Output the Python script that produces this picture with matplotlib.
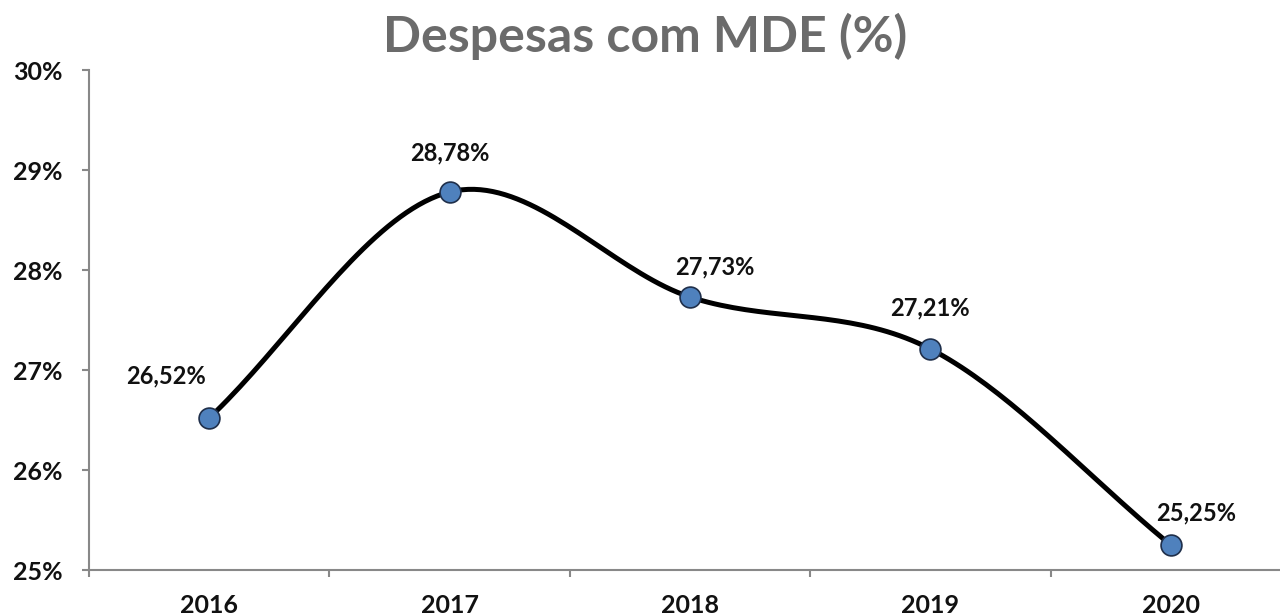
import numpy as np
import matplotlib.pyplot as plt

anos = ['2016', '2017', '2018', '2019', '2020']
valores = [26.52, 28.78, 27.73, 27.21, 25.25]
rotulos = ['26,52%', '28,78%', '27,73%', '27,21%', '25,25%']
# deslocamento dos rotulos em pixels (dx, dy)
desloc = [(-43, 42), (0, 39), (25, 30), (0, 41), (25, 32)]
yticks = [25, 26, 27, 28, 29, 30]

plt.rcParams['font.family'] = ['Lato', 'DejaVu Sans']

# linha suavizada estilo Excel (Catmull-Rom)
def suavizar(x, y, n=40):
    x = np.asarray(x, float)
    y = np.asarray(y, float)
    px = np.concatenate([[2*x[0]-x[1]], x, [2*x[-1]-x[-2]]])
    py = np.concatenate([[2*y[0]-y[1]], y, [2*y[-1]-y[-2]]])
    xs, ys = [], []
    for i in range(1, len(px)-2):
        t = np.linspace(0, 1, n)
        p0, p1, p2, p3 = [np.array([px[j], py[j]]) for j in range(i-1, i+3)]
        c1 = p1 + (p2 - p0)/6
        c2 = p2 - (p3 - p1)/6
        b = (np.outer((1-t)**3, p1) + np.outer(3*(1-t)**2*t, c1)
             + np.outer(3*(1-t)*t**2, c2) + np.outer(t**3, p2))
        xs.extend(b[:, 0]); ys.extend(b[:, 1])
    return np.array(xs), np.array(ys)

x = np.arange(len(anos))
fig = plt.figure(figsize=(12.8, 6.16), dpi=100)
ax = fig.add_axes([89/1280, 46/616, 1202/1280, 500/616])

sx, sy = suavizar(x, valores)
ax.plot(sx, sy, color='black', lw=3.6, zorder=2, solid_capstyle='round')
ax.plot(x, valores, 'o', ms=15, mfc='#4f81bd', mec='#1f2f4a', mew=1.2, zorder=3)

for xi, v, r, (dx, dy) in zip(x, valores, rotulos, desloc):
    ax.annotate(r, (xi, v), xytext=(dx*0.72, dy*0.72), textcoords='offset points',
                ha='center', va='center', fontsize=17, fontweight='bold', color='#111111')

ax.set_xlim(-0.5, 4.5)
ax.set_ylim(25, 30)
ax.set_yticks(yticks)
ax.set_yticklabels([f'{t}%' for t in yticks])
ax.set_xticks(np.arange(-0.5, 4.6, 1))
ax.set_xticklabels([])
ax.set_xticks(x, minor=True)
ax.set_xticklabels(anos, minor=True)
ax.tick_params(axis='x', which='minor', length=0, pad=17)
ax.tick_params(axis='x', which='major', length=5, color='#888888', width=1.5)
ax.tick_params(axis='y', length=5, color='#888888', width=1.5, pad=14)
for lab in ax.get_xticklabels(minor=True) + ax.get_yticklabels():
    lab.set_fontsize(18)
    lab.set_fontweight('bold')
    lab.set_color('#111111')

for s in ['top', 'right']:
    ax.spines[s].set_visible(False)
for s in ['left', 'bottom']:
    ax.spines[s].set_color('#888888')
    ax.spines[s].set_linewidth(1.5)

fig.text(645/1280, 1 - 36/616, 'Despesas com MDE (%)', ha='center', va='center',
         fontsize=36, fontweight='bold', color='#6b6b6b')

fig.savefig('out.png', dpi=100)
